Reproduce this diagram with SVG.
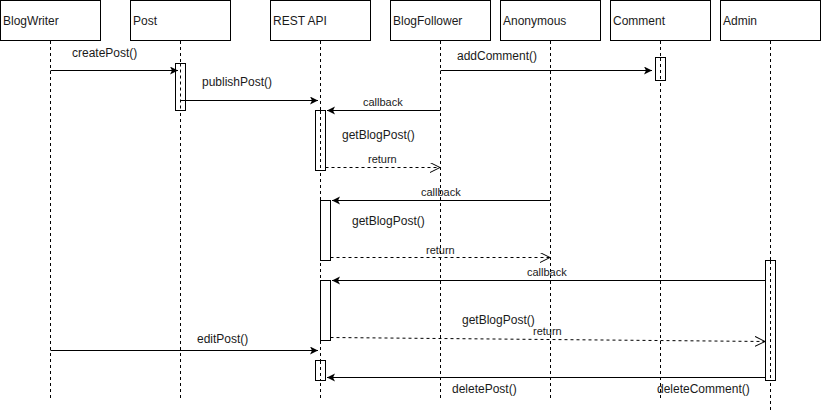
<svg xmlns="http://www.w3.org/2000/svg" width="821" height="411" viewBox="0 0 821 411">
<style>
.hdr{fill:#fff;stroke:#000;stroke-width:1}
.life{stroke:#000;stroke-width:1;stroke-dasharray:3 3;fill:none}
.act{fill:#fff;stroke:#000;stroke-width:1}
.msg{stroke:#000;stroke-width:1;fill:none}
.ret{stroke:#000;stroke-width:1;fill:none;stroke-dasharray:3 3}
text{font-family:"Liberation Sans",Arial,sans-serif;fill:#1a1a1a}
.t12{font-size:12px}
.t11{font-size:11px}
</style>
<defs>
<marker id="blk" markerWidth="10" markerHeight="10" refX="8" refY="4" orient="auto" markerUnits="userSpaceOnUse">
<path d="M0,0 L8,4 L0,8 L2,4 Z" fill="#000"/>
</marker>
<marker id="opn" markerWidth="12" markerHeight="12" refX="10" refY="5" orient="auto" markerUnits="userSpaceOnUse">
<path d="M0,0 L10,5 L0,10" fill="none" stroke="#000" stroke-width="1"/>
</marker>
</defs>
<rect width="821" height="411" fill="#fff"/>

<g id="BlogWriter">
<rect class="hdr" x="0.5" y="0.5" width="100" height="40"/>
<text class="t12" x="3" y="25">BlogWriter</text>
<line class="life" x1="50.5" y1="41" x2="50.5" y2="398"/>
</g>
<g id="Post">
<rect class="hdr" x="130.5" y="0.5" width="100" height="40"/>
<text class="t12" x="133" y="25">Post</text>
<line class="life" x1="180.5" y1="41" x2="180.5" y2="398"/>
<rect class="act" x="175.5" y="63.5" width="10" height="47"/>
<line class="life" x1="180.5" y1="63.5" x2="180.5" y2="110"/>
</g>
<g id="RESTAPI">
<rect class="hdr" x="270.5" y="0.5" width="100" height="40"/>
<text class="t12" x="273" y="25">REST API</text>
<line class="life" x1="320.5" y1="41" x2="320.5" y2="398"/>
<rect class="act" x="315.5" y="110.5" width="10" height="60"/>
<line class="life" x1="320.5" y1="111" x2="320.5" y2="170"/>
<rect class="act" x="320.5" y="200.5" width="10" height="60"/>
<rect class="act" x="320.5" y="280.5" width="10" height="60"/>
<rect class="act" x="315.5" y="360.5" width="10" height="20"/>
<line class="life" x1="320.5" y1="361" x2="320.5" y2="380"/>
</g>
<g id="BlogFollower">
<rect class="hdr" x="390.5" y="0.5" width="100" height="40"/>
<text class="t12" x="393" y="25">BlogFollower</text>
<line class="life" x1="440.5" y1="41" x2="440.5" y2="398"/>
</g>
<g id="Anonymous">
<rect class="hdr" x="500.5" y="0.5" width="100" height="40"/>
<text class="t12" x="503" y="25">Anonymous</text>
<line class="life" x1="550.5" y1="41" x2="550.5" y2="398"/>
</g>
<g id="Comment">
<rect class="hdr" x="610.5" y="0.5" width="100" height="40"/>
<text class="t12" x="613" y="25">Comment</text>
<line class="life" x1="660.5" y1="41" x2="660.5" y2="398"/>
<rect class="act" x="655.5" y="57.5" width="10" height="23"/>
<line class="life" x1="660.5" y1="58" x2="660.5" y2="80"/>
</g>
<g id="Admin">
<rect class="hdr" x="720.5" y="0.5" width="100" height="40"/>
<text class="t12" x="723" y="25">Admin</text>
<line class="life" x1="770.5" y1="41" x2="770.5" y2="411"/>
<rect class="act" x="765.5" y="260.5" width="10" height="120"/>
<line class="life" x1="770.5" y1="261" x2="770.5" y2="380"/>
</g>

<g id="connectors">
<line class="msg" x1="50.5" y1="70.5" x2="178" y2="70.5" marker-end="url(#blk)"/>
<line class="msg" x1="180.5" y1="100.5" x2="318" y2="100.5" marker-end="url(#blk)"/>
<line class="msg" x1="440.5" y1="110.5" x2="327" y2="110.5" marker-end="url(#blk)"/>
<line class="ret" x1="325.5" y1="167.5" x2="440" y2="167.5" marker-end="url(#opn)"/>
<line class="msg" x1="440.5" y1="70.5" x2="652" y2="70.5" marker-end="url(#blk)"/>
<line class="msg" x1="550.5" y1="200.5" x2="332" y2="200.5" marker-end="url(#blk)"/>
<line class="ret" x1="330.5" y1="257.5" x2="550" y2="257.5" marker-end="url(#opn)"/>
<line class="msg" x1="765.5" y1="280.5" x2="332" y2="280.5" marker-end="url(#blk)"/>
<line class="ret" x1="330.5" y1="337.5" x2="765" y2="341.5" marker-end="url(#opn)"/>
<line class="msg" x1="50.5" y1="350.5" x2="318" y2="350.5" marker-end="url(#blk)"/>
<line class="msg" x1="765.5" y1="377.5" x2="327" y2="377.5" marker-end="url(#blk)"/>
</g>

<g id="labels">
<text class="t12" x="72" y="57">createPost()</text>
<text class="t12" x="202" y="86">publishPost()</text>
<text class="t11" x="363" y="106">callback</text>
<text class="t12" x="342" y="139">getBlogPost()</text>
<text class="t11" x="368" y="163">return</text>
<text class="t12" x="457" y="60">addComment()</text>
<text class="t11" x="421" y="196">callback</text>
<text class="t12" x="352" y="225">getBlogPost()</text>
<text class="t11" x="426" y="254">return</text>
<text class="t11" x="527" y="276">callback</text>
<text class="t12" x="462" y="324">getBlogPost()</text>
<text class="t11" x="533" y="335">return</text>
<text class="t12" x="197" y="343">editPost()</text>
<text class="t12" x="452" y="393">deletePost()</text>
<text class="t12" x="657" y="393">deleteComment()</text>
</g>
</svg>
